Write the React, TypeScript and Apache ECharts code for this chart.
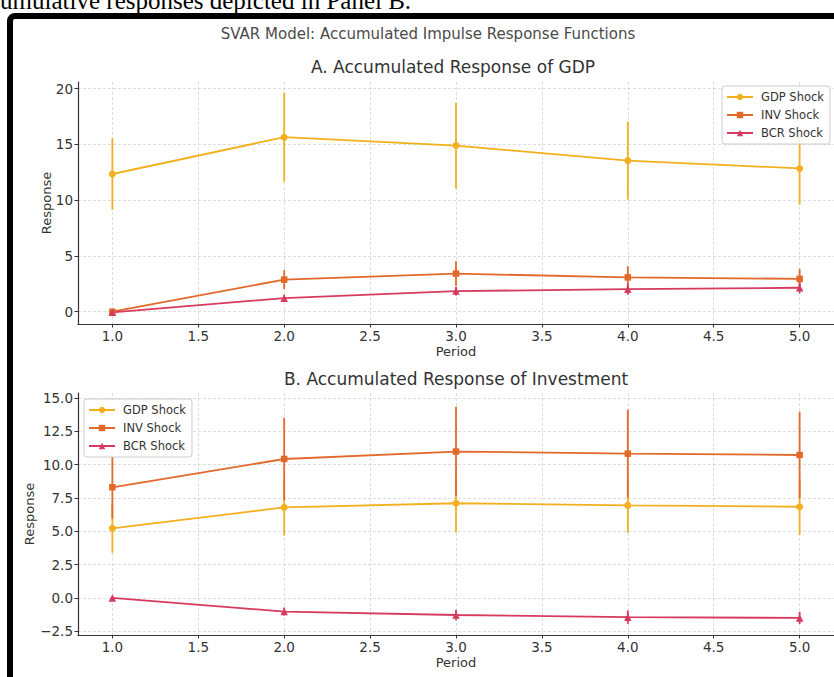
import { useEffect, useRef } from 'react';
import * as echarts from 'echarts';

// ---- data ----
const periods = [1, 2, 3, 4, 5];
const xTicks = [1, 1.5, 2, 2.5, 3, 3.5, 4, 4.5, 5];
const yTicksA = [0, 5, 10, 15, 20];
const yTicksB = [-2.5, 0, 2.5, 5, 7.5, 10, 12.5, 15];
const shockNames = ['GDP Shock', 'INV Shock', 'BCR Shock'];

// Panel A: accumulated response of GDP
const gdpA = [12.35, 15.65, 14.9, 13.55, 12.85];
const gdpAErr = [3.2, 4.0, 3.85, 3.5, 3.25];
const invA = [0.0, 2.88, 3.42, 3.08, 2.95];
const invAErr = [0.15, 0.85, 1.1, 1.0, 0.9];
const bcrA = [-0.05, 1.22, 1.85, 2.02, 2.15];
const bcrAErr = [0.1, 0.3, 0.4, 0.5, 0.5];

// Panel B: accumulated response of investment
const gdpB = [5.22, 6.79, 7.1, 6.94, 6.84];
const gdpBErr = [1.83, 2.1, 2.2, 2.06, 2.1];
const invB = [8.3, 10.42, 10.98, 10.82, 10.72];
const invBErr = [2.35, 3.1, 3.35, 3.3, 3.25];
const bcrB = [0.0, -1.02, -1.28, -1.44, -1.5];
const bcrBErr = [0.1, 0.3, 0.4, 0.5, 0.45];

const colors = ['#F2B01E', '#E2692A', '#D63A5E'];
const symbols = ['circle', 'rect', 'triangle'];
const symbolSizes = [7, 6.5, 7.5];
const FONT = 'DejaVu Sans';

function fmtMinus(v: number, digits: number) {
  const s = v.toFixed(digits);
  return s.replace('-', '\u2212');
}

export default function App() {
  const ref = useRef<HTMLDivElement>(null);

  useEffect(() => {
    if (!ref.current) return;
    const chart = echarts.init(ref.current, undefined, { renderer: 'svg' });

    const panels = [
      { vals: [gdpA, invA, bcrA], errs: [gdpAErr, invAErr, bcrAErr], tag: 'A' },
      { vals: [gdpB, invB, bcrB], errs: [gdpBErr, invBErr, bcrBErr], tag: 'B' },
    ];

    const series: any[] = [];
    panels.forEach((p, gi) => {
      p.vals.forEach((vals, si) => {
        const color = colors[si];
        series.push({
          type: 'custom',
          name: shockNames[si] + ' err ' + p.tag,
          xAxisIndex: gi,
          yAxisIndex: gi,
          encode: { x: 0, y: [1, 2] },
          data: periods.map((x, i) => [x, vals[i] - p.errs[si][i], vals[i] + p.errs[si][i]]),
          renderItem: (params: any, api: any) => {
            const x = api.value(0);
            const a = api.coord([x, api.value(1)]);
            const b = api.coord([x, api.value(2)]);
            return {
              type: 'line',
              shape: { x1: a[0], y1: a[1], x2: b[0], y2: b[1] },
              style: { stroke: color, lineWidth: 1.8 },
            };
          },
          silent: true,
        });
        series.push({
          type: 'line',
          name: shockNames[si],
          xAxisIndex: gi,
          yAxisIndex: gi,
          data: periods.map((x, i) => [x, vals[i]]),
          symbol: symbols[si],
          symbolSize: symbolSizes[si],
          showSymbol: true,
          showAllSymbol: true,
          itemStyle: { color },
          lineStyle: { color, width: 1.8 },
          silent: true,
        });
      });
    });

    const splitLine = { show: true, lineStyle: { color: '#d4d4d4', width: 0.8, type: [3, 2] } };
    const axisLine = { show: true, onZero: false, lineStyle: { color: '#333', width: 1.2 } };
    const axisTickX = { show: true, length: 3.5, inside: false, customValues: xTicks, lineStyle: { color: '#333' } };
    const labelStyle = { fontFamily: FONT, fontSize: 13.5, color: '#333' };
    const nameStyle = { fontFamily: FONT, fontSize: 13, color: '#333' };

    const mkX = (gi: number) => ({
      type: 'value',
      gridIndex: gi,
      min: 0.8,
      max: 5.2,
      name: 'Period',
      nameLocation: 'middle',
      nameGap: 21,
      nameMoveOverlap: false,
      nameTextStyle: nameStyle,
      axisLine,
      axisTick: axisTickX,
      splitLine,
      axisLabel: { ...labelStyle, margin: 5, customValues: xTicks, formatter: (v: number) => v.toFixed(1) },
    });

    const legendBase = {
      data: shockNames,
      orient: 'vertical',
      itemWidth: 26,
      itemHeight: 8,
      itemGap: 6,
      padding: [5, 6, 5, 4],
      borderColor: '#cccccc',
      borderWidth: 1,
      borderRadius: 3,
      backgroundColor: 'rgba(255,255,255,0.85)',
      selectedMode: false,
      textStyle: { fontFamily: FONT, fontSize: 11.5, color: '#333', lineHeight: 12, padding: [0, 0, 0, 3] },
    };

    const option: any = {
      animation: false,
      backgroundColor: 'transparent',
      graphic: [
        {
          type: 'rect',
          silent: true,
          z: -10,
          shape: { x: 10, y: 16, width: 900, height: 800, r: 5 },
          style: { fill: 'none', stroke: '#000', lineWidth: 6 },
        },
        {
          type: 'text',
          silent: true,
          x: -11,
          y: 13,
          style: {
            text: 'cumulative responses depicted in Panel B.',
            font: '25px "Liberation Serif"',
            fill: '#000',
            verticalAlign: 'bottom',
          },
        },
        {
          type: 'text',
          silent: true,
          x: 428,
          y: 34,
          style: {
            text: 'SVAR Model: Accumulated Impulse Response Functions',
            font: '15px "DejaVu Sans"',
            fill: '#4a4a4a',
            align: 'center',
            verticalAlign: 'middle',
          },
        },
        {
          type: 'text',
          silent: true,
          x: 453,
          y: 67,
          style: {
            text: 'A. Accumulated Response of GDP',
            font: '17px "DejaVu Sans"',
            fill: '#333',
            align: 'center',
            verticalAlign: 'middle',
          },
        },
        {
          type: 'text',
          silent: true,
          x: 456,
          y: 379,
          style: {
            text: 'B. Accumulated Response of Investment',
            font: '17px "DejaVu Sans"',
            fill: '#333',
            align: 'center',
            verticalAlign: 'middle',
          },
        },
      ],
      grid: [
        { left: 78, top: 82, width: 756, height: 242, outerBoundsMode: 'none', containLabel: false },
        { left: 78, top: 393, width: 756, height: 242, outerBoundsMode: 'none', containLabel: false },
      ],
      xAxis: [mkX(0), mkX(1)],
      yAxis: [
        {
          type: 'value',
          gridIndex: 0,
          min: -1.1,
          max: 20.6,
          name: 'Response',
          nameLocation: 'middle',
          nameGap: 25,
          nameMoveOverlap: false,
          nameTextStyle: nameStyle,
          axisLine,
          axisTick: { show: true, length: 3.5, customValues: yTicksA, lineStyle: { color: '#333' } },
          splitLine,
          axisLabel: { ...labelStyle, margin: 5, customValues: yTicksA, formatter: (v: number) => fmtMinus(v, 0) },
        },
        {
          type: 'value',
          gridIndex: 1,
          min: -2.78,
          max: 15.37,
          name: 'Response',
          nameLocation: 'middle',
          nameGap: 42,
          nameMoveOverlap: false,
          nameTextStyle: nameStyle,
          axisLine,
          axisTick: { show: true, length: 3.5, customValues: yTicksB, lineStyle: { color: '#333' } },
          splitLine,
          axisLabel: { ...labelStyle, margin: 5, customValues: yTicksB, formatter: (v: number) => fmtMinus(v, 1) },
        },
      ],
      legend: [
        { ...legendBase, left: 722, top: 86 },
        { ...legendBase, left: 84, top: 399 },
      ],
      series,
    };

    chart.setOption(option);
    return () => {
      chart.dispose();
    };
  }, []);

  return (
    <div
      ref={ref}
      style={{ position: 'fixed', left: 0, top: 0, width: 834, height: 677, background: '#fff' }}
    />
  );
}
